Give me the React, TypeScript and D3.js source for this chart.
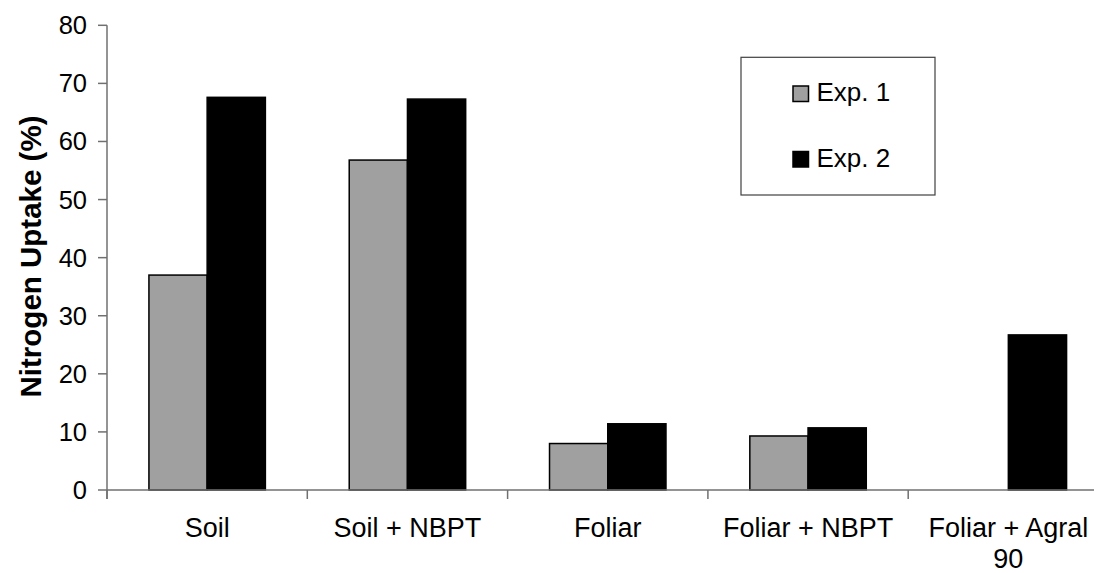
import React from "react";
import * as d3 from "d3";

const categories = ["Soil", "Soil + NBPT", "Foliar", "Foliar + NBPT", "Foliar + Agral 90"];
const seriesNames = ["Exp. 1", "Exp. 2"];
const exp1 = [37.0, 56.8, 8.0, 9.3, null];
const exp2 = [67.6, 67.3, 11.4, 10.7, 26.7];
const yTicks = [0, 10, 20, 30, 40, 50, 60, 70, 80];
const seriesColors = ["#A0A0A0", "#000000"];

const W = 1094;
const H = 573;
const left = 107;
const bandW = 200.3;
const y0 = 490;
const yTop = 25.3;

function wrap(label: string, maxChars: number): string[] {
  const words = label.split(" ");
  const lines: string[] = [];
  let cur = "";
  for (const w of words) {
    const next = cur ? cur + " " + w : w;
    if (next.length > maxChars && cur) {
      lines.push(cur);
      cur = w;
    } else cur = next;
  }
  if (cur) lines.push(cur);
  return lines;
}

export default function App() {
  const x = d3
    .scaleBand<string>()
    .domain(categories)
    .range([left, left + bandW * categories.length])
    .paddingInner(0)
    .paddingOuter(0);
  const x1 = d3
    .scaleBand<string>()
    .domain(seriesNames)
    .range([0, x.bandwidth()])
    .paddingInner(0)
    .paddingOuter(0.72);
  const y = d3.scaleLinear().domain([0, 80]).range([y0, yTop]);
  const values = [exp1, exp2];
  const font = "Arial, 'Liberation Sans', sans-serif";
  const axisColor = "#707070";

  return (
    <svg
      width={W}
      height={H}
      style={{ position: "absolute", left: 0, top: 0, background: "#fff" }}
      fontFamily={font}
    >
      <rect x={0} y={0} width={W} height={H} fill="#fff" />
      {categories.map((c, i) =>
        seriesNames.map((s, j) => {
          const v = values[j][i];
          if (v == null) return null;
          const bx = (x(c) as number) + (x1(s) as number);
          return (
            <rect
              key={c + s}
              x={bx}
              y={y(v)}
              width={x1.bandwidth()}
              height={y0 - y(v)}
              fill={seriesColors[j]}
              stroke="#000"
              strokeWidth={1.5}
            />
          );
        })
      )}
      <line x1={left} x2={left} y1={yTop} y2={y0 + 9} stroke={axisColor} strokeWidth={1.5} />
      {yTicks.map((t) => (
        <g key={t}>
          <line x1={left - 9} x2={left} y1={y(t)} y2={y(t)} stroke={axisColor} strokeWidth={1.5} />
          <text x={87} y={y(t) + 9} textAnchor="end" fontSize={25.5} fill="#000">
            {t}
          </text>
        </g>
      ))}
      <line x1={left} x2={W} y1={y0} y2={y0} stroke={axisColor} strokeWidth={1.5} />
      {categories.map((c) => (
        <line
          key={"t" + c}
          x1={x(c) as number}
          x2={x(c) as number}
          y1={y0}
          y2={y0 + 9}
          stroke={axisColor}
          strokeWidth={1.5}
        />
      ))}
      {categories.map((c) => {
        const lines = wrap(c, 14);
        const cx = (x(c) as number) + x.bandwidth() / 2;
        return (
          <text key={"l" + c} x={cx} y={537} textAnchor="middle" fontSize={27} fill="#000">
            {lines.map((ln, k) => (
              <tspan key={k} x={cx} dy={k === 0 ? 0 : 30.5}>
                {ln}
              </tspan>
            ))}
          </text>
        );
      })}
      <text
        transform={`translate(41, ${(113 + 400) / 2}) rotate(-90)`}
        textAnchor="middle"
        fontSize={29.5}
        fontWeight="bold"
        fill="#000"
      >
        Nitrogen Uptake (%)
      </text>
      <rect x={741} y={57.3} width={194} height={137.7} fill="#fff" stroke="#404040" strokeWidth={1.2} />
      {seriesNames.map((s, j) => (
        <g key={"lg" + s}>
          <rect
            x={793}
            y={86 + j * 65.5}
            width={15.5}
            height={15.5}
            fill={seriesColors[j]}
            stroke="#000"
            strokeWidth={1.5}
          />
          <text x={816.5} y={100.5 + j * 66} fontSize={26} fill="#000">
            {s}
          </text>
        </g>
      ))}
    </svg>
  );
}
